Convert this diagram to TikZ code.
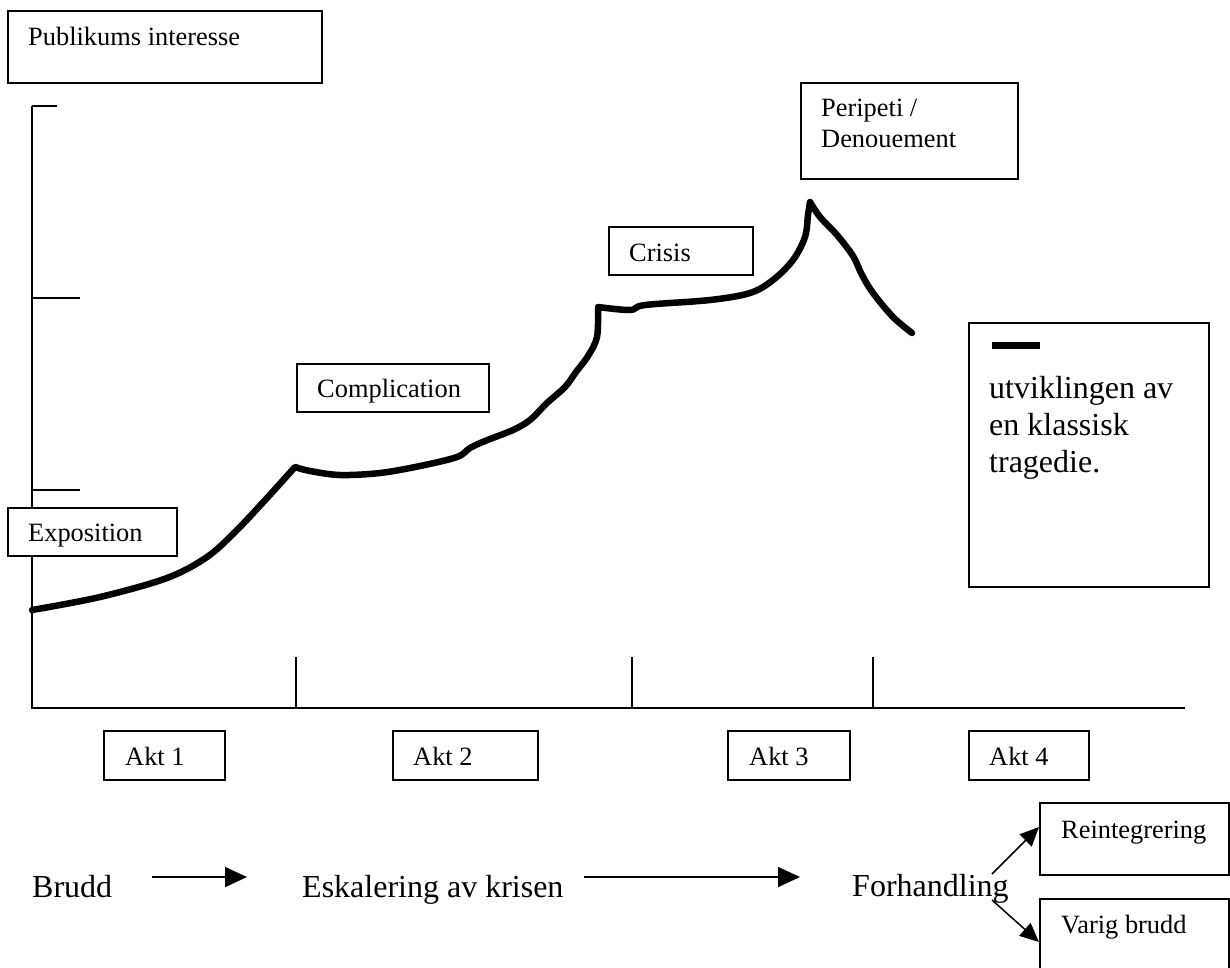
\documentclass[tikz,border=0pt]{standalone}
\usepackage{fontspec}
\setmainfont{Liberation Serif}
\usetikzlibrary{arrows.meta}
\begin{document}
\begin{tikzpicture}[x=1pt,y=-1pt,
  box/.style={draw, fill=white, line width=1.5pt, inner sep=0pt, anchor=north west},
  txt/.style={inner sep=0pt, anchor=base west, font=\fontsize{26.4}{31}\selectfont},
  bigtxt/.style={inner sep=0pt, anchor=base west, font=\fontsize{32}{37}\selectfont},
  axis/.style={line width=1.6pt},
  curve/.style={line width=6.5pt, line cap=round, line join=round},
  arr/.style={line width=1.6pt, -{Triangle[length=22pt,width=20pt]}},
  arrb/.style={line width=1.5pt, -{Triangle[length=19pt,width=17pt]}}]
\useasboundingbox (0,0) rectangle (1230,967);
% axes
\coordinate (ytop) at (32,106);
\coordinate (orig) at (32,708);
\coordinate (xend) at (1185,708);
\draw[axis] (ytop) -- (orig) -- (xend);
\draw[axis] (ytop) -- (57,106);
\draw[axis] (32,298) -- (80,298);
\draw[axis] (32,490) -- (80,490);
\draw[axis] (296,657) -- (296,708);
\draw[axis] (632,657) -- (632,708);
\draw[axis] (873,657) -- (873,708);
% curve
\draw[curve] plot[smooth,tension=0.55] coordinates {(32,610) (100,597) (167,578) (207,557) (236,531) (267,498) (295,467)}
  -- plot[smooth,tension=0.55] coordinates {(295,467) (310,471) (340,475) (380,473) (420,466) (457,457) (470,448) (485,441) (513,430) (530,420) (547,403) (565,387) (576,372) (588,356) (597,337) (598,307)}
  -- plot[smooth,tension=0.55] coordinates {(598,307) (630,310) (645,305) (710,300) (750,293) (773,280) (793,260) (805,237) (808,215) (810,202)}
  -- plot[smooth,tension=0.55] coordinates {(810,202) (820,217) (837,235) (853,256) (862,275) (873,293) (893,317) (912,333)};
% boxes
\node[box, minimum width=314pt, minimum height=72pt] (pubbox) at (7,10) {};
\node[txt] (pubtxt) at (28,45) {Publikums interesse};
\node[box, minimum width=169pt, minimum height=48pt] (expbox) at (7,507) {};
\node[txt] (exptxt) at (28,541) {Exposition};
\node[box, minimum width=192pt, minimum height=48pt] (compbox) at (296,363) {};
\node[txt] (comptxt) at (317,397) {Complication};
\node[box, minimum width=144pt, minimum height=48pt] (crisbox) at (608,226) {};
\node[txt] (cristxt) at (629,261) {Crisis};
\node[box, minimum width=217pt, minimum height=96pt] (peribox) at (800,82) {};
\node[txt, anchor=north west, align=left] (peritxt) at (821,99) {Peripeti /\\Denouement};
\node[box, minimum width=240pt, minimum height=264pt] (legbox) at (968,322) {};
\fill (992,342) rectangle (1040,349);
\node[bigtxt, anchor=north west, align=left] (legtxt) at (989,376) {utviklingen av\\en klassisk\\tragedie.};
% acts
\node[box, minimum width=121pt, minimum height=49pt] (akt1) at (103,730) {};
\node[txt] (akt1t) at (125,765) {Akt 1};
\node[box, minimum width=145pt, minimum height=49pt] (akt2) at (392,730) {};
\node[txt] (akt2t) at (413,765) {Akt 2};
\node[box, minimum width=122pt, minimum height=49pt] (akt3) at (727,730) {};
\node[txt] (akt3t) at (749,765) {Akt 3};
\node[box, minimum width=120pt, minimum height=49pt] (akt4) at (968,730) {};
\node[txt] (akt4t) at (989,765) {Akt 4};
% bottom row
\node[bigtxt] (brudd) at (32,897) {Brudd};
\node[bigtxt] (esk) at (302,897) {Eskalering av krisen};
\node[bigtxt] (forh) at (852,896) {Forhandling};
\coordinate (a1s) at (152,877);
\coordinate (a1e) at (247,877);
\coordinate (a2s) at (584,877);
\coordinate (a2e) at (800,877);
\draw[arr] (a1s) -- (a1e);
\draw[arr] (a2s) -- (a2e);
\node[box, minimum width=189pt, minimum height=72pt] (reintbox) at (1039,802) {};
\node[txt] (reinttxt) at (1061,838) {Reintegrering};
\node[box, minimum width=189pt, minimum height=80pt] (varigbox) at (1039,898) {};
\node[txt] (varigtxt) at (1061,933) {Varig brudd};
\coordinate (b1s) at (992,874);
\coordinate (b1e) at (1039,827);
\coordinate (b2s) at (992,900);
\coordinate (b2e) at (1039,942);
\draw[arrb] (b1s) -- (b1e);
\draw[arrb] (b2s) -- (b2e);
\end{tikzpicture}
\end{document}
